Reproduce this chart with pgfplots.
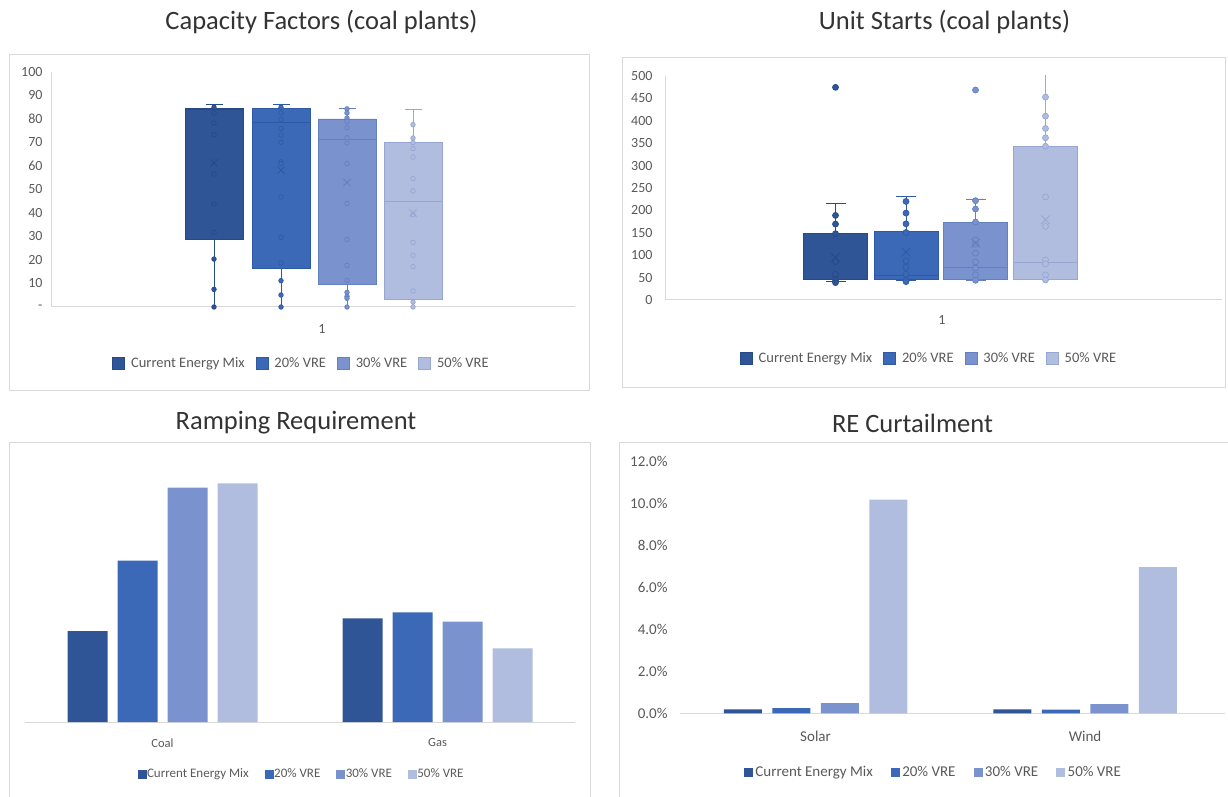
\documentclass[border=0pt]{standalone}
\usepackage{pgfplots}
\pgfplotsset{compat=1.18}
\usepackage{fontspec}
\setmainfont{Carlito}
\definecolor{c1}{HTML}{2F5597}
\definecolor{c2}{HTML}{3C69B7}
\definecolor{c3}{HTML}{7A93CF}
\definecolor{c4}{HTML}{B1BDDF}
\definecolor{e1}{HTML}{264A87}
\definecolor{e2}{HTML}{2F5AA3}
\definecolor{e3}{HTML}{6580BF}
\definecolor{e4}{HTML}{97A6D2}
\definecolor{gridgray}{HTML}{D9D9D9}
\definecolor{tickgray}{HTML}{595959}
\definecolor{titlegray}{HTML}{333333}
\pgfplotsset{
  panel/.style={scale only axis, anchor=south west,
    axis line style={draw=gridgray, line width=1pt, -},
    major tick length=0pt,
    tick label style={font=\fontsize{14}{16}\selectfont, text=tickgray},
    /pgf/number format/assume math mode=true,
    legend columns=4, unbounded coords=jump,
    legend style={draw=none, fill=none, anchor=center,
      font=\fontsize{14.5}{17}\selectfont, text=tickgray,
      nodes={inner sep=3pt},
      /tikz/every odd column/.append style={column sep=3pt},
      /tikz/every even column/.append style={column sep=8pt}},
  },
  bigbox/.style 2 args={legend image code/.code={\draw[line width=0.8pt, fill=#1, draw=#2] (0pt,-6pt) rectangle (12pt,6pt);}},
  smallbox/.style={legend image code/.code={\fill[#1] (0pt,-4pt) rectangle (8pt,4pt);}},
  bx/.style={forget plot, draw=#1, line width=0.9pt},
  pts/.style 2 args={forget plot, only marks, mark=*, mark options={fill=#1, draw=#2, line width=0.7pt, solid}},
  mn/.style={forget plot, only marks, mark=x, mark options={draw=#1, line width=0.9pt}},
}
\begin{document}
\begin{tikzpicture}
\path[use as bounding box] (0pt,0pt) rectangle (1228pt,796pt);
% panel frames
\draw[gridgray, line width=1pt] (9pt,741pt) rectangle (589pt,405pt);
\draw[gridgray, line width=1pt] (622pt,738pt) rectangle (1225pt,408pt);
\draw[gridgray, line width=1pt] (9pt,354pt) rectangle (590pt,-5pt);
\draw[gridgray, line width=1pt] (619pt,354pt) rectangle (1240pt,-5pt);
% titles
\node[font=\fontsize{26.5}{30}\selectfont, text=titlegray] at (321.5pt,774pt) {Capacity Factors (coal plants)};
\node[font=\fontsize{26.5}{30}\selectfont, text=titlegray] at (944.5pt,774pt) {Unit Starts (coal plants)};
\node[font=\fontsize{26.5}{30}\selectfont, text=titlegray] at (296pt,373pt) {Ramping Requirement};
\node[font=\fontsize{26.5}{30}\selectfont, text=titlegray] at (912.5pt,373pt) {RE Curtailment};

% ---------------- Capacity factors (box plots: whiskers, box, median, points, mean)
\begin{axis}[panel, at={(52pt,489pt)}, width=523pt, height=235pt,
  xmin=52, xmax=575, ymin=0, ymax=100,
  ytick={0,10,...,100}, yticklabels={-,10,20,30,40,50,60,70,80,90,100},
  xtick={322}, xticklabels={1},
  axis x line*=bottom, axis y line*=left,
  yticklabel style={xshift=-6pt}, xticklabel style={yshift=-14pt},
  legend style={at={(0.478,-0.238)}}]
\addlegendimage{bigbox={c1}{e1}}\addlegendentry{Current Energy Mix}
\addlegendimage{bigbox={c2}{e2}}\addlegendentry{20\% VRE}
\addlegendimage{bigbox={c3}{e3}}\addlegendentry{30\% VRE}
\addlegendimage{bigbox={c4}{e4}}\addlegendentry{50\% VRE}
% Current energy mix: lw=0, lq=28.7, med=84, uq=84.4, uw=86.1, mean=61.3
\addplot[bx=e1] coordinates {(214,28.7) (214,0) (nan,nan) (205.5,0) (222.5,0) (nan,nan) (214,84.4) (214,86.1) (nan,nan) (205.5,86.1) (222.5,86.1)};
\addplot[bx=e1, fill=c1] coordinates {(185,28.7) (243,28.7) (243,84.4) (185,84.4) (185,28.7)};
\addplot[bx=e1] coordinates {(185,84) (243,84)};
\addplot[pts={c1}{e1}, mark size=2.3pt] coordinates {(214,85) (214,82.6) (214,78.3) (214,73.3) (214,56.6) (214,43.8) (214,31.8) (214,20.4) (214,7.5) (214,0)};
\addplot[mn=e1, mark size=5pt] coordinates {(214,61.3)};
% 20% VRE: lw=0, lq=16.6, med=78.6, uq=84.4, uw=86.1, mean=58.2
\addplot[bx=e2] coordinates {(281,16.6) (281,0) (nan,nan) (272.5,0) (289.5,0) (nan,nan) (281,84.4) (281,86.1) (nan,nan) (272.5,86.1) (289.5,86.1)};
\addplot[bx=e2, fill=c2] coordinates {(252,16.6) (310,16.6) (310,84.4) (252,84.4) (252,16.6)};
\addplot[bx=e2] coordinates {(252,78.6) (310,78.6)};
\addplot[pts={c2}{e2}, mark size=2.3pt] coordinates {(281,85) (281,82.6) (281,79.7) (281,76) (281,73.2) (281,70.1) (281,61.8) (281,61) (281,46.8) (281,29.6) (281,18.7) (281,11.2) (281,5.1) (281,0)};
\addplot[mn=e2, mark size=5pt] coordinates {(281,58.2)};
% 30% VRE: lw=0, lq=9.8, med=71.5, uq=80, uw=84.7, mean=53
\addplot[bx=e3] coordinates {(347,9.8) (347,0) (nan,nan) (338.5,0) (355.5,0) (nan,nan) (347,80) (347,84.7) (nan,nan) (338.5,84.7) (355.5,84.7)};
\addplot[bx=e3, fill=c3] coordinates {(318,9.8) (376,9.8) (376,80) (318,80) (318,9.8)};
\addplot[bx=e3] coordinates {(318,71.5) (376,71.5)};
\addplot[pts={c3}{e3}, mark size=2.3pt] coordinates {(347,84.3) (347,82.6) (347,80.4) (347,79) (347,76.3) (347,72) (347,69.8) (347,61) (347,44.1) (347,28.7) (347,17.7) (347,11.3) (347,6.2) (347,4.5) (347,3.7) (347,0)};
\addplot[mn=e3, mark size=5pt] coordinates {(347,53)};
% 50% VRE: lw=0, lq=3.4, med=45.1, uq=70, uw=84, mean=40
\addplot[bx=e4] coordinates {(413,3.4) (413,0) (nan,nan) (404.5,0) (421.5,0) (nan,nan) (413,70) (413,84) (nan,nan) (404.5,84) (421.5,84)};
\addplot[bx=e4, fill=c4] coordinates {(384,3.4) (442,3.4) (442,70) (384,70) (384,3.4)};
\addplot[bx=e4] coordinates {(384,45.1) (442,45.1)};
\addplot[pts={c4}{e4}, mark size=2.3pt] coordinates {(413,77.6) (413,71.9) (413,70) (413,67.4) (413,63.8) (413,54.6) (413,49.4) (413,39.3) (413,27.5) (413,22) (413,17.2) (413,6.8) (413,2.1) (413,0)};
\addplot[mn=e4, mark size=5pt] coordinates {(413,40)};
\end{axis}

% ---------------- Unit starts
\begin{axis}[panel, at={(665pt,496pt)}, width=557pt, height=224pt,
  xmin=665, xmax=1222, ymin=0, ymax=500,
  ytick={0,50,...,500},
  xtick={942}, xticklabels={1},
  axis x line*=bottom, axis y line*=left,
  yticklabel style={xshift=-9pt}, xticklabel style={yshift=-12pt},
  legend style={at={(0.475,-0.259)}}]
\addlegendimage{bigbox={c1}{e1}}\addlegendentry{Current Energy Mix}
\addlegendimage{bigbox={c2}{e2}}\addlegendentry{20\% VRE}
\addlegendimage{bigbox={c3}{e3}}\addlegendentry{30\% VRE}
\addlegendimage{bigbox={c4}{e4}}\addlegendentry{50\% VRE}
% Current: lw=42, lq=44.8, med=46, uq=147.8, uw=216.5, mean=94.8
\addplot[bx=e1] coordinates {(835.5,44.8) (835.5,42) (nan,nan) (825.5,42) (845.5,42) (nan,nan) (835.5,147.8) (835.5,216.5) (nan,nan) (825.5,216.5) (845.5,216.5)};
\addplot[bx=e1, fill=c1] coordinates {(803.5,44.8) (867.5,44.8) (867.5,147.8) (803.5,147.8) (803.5,44.8)};
\addplot[bx=e1] coordinates {(803.5,46) (867.5,46)};
\addplot[pts={c1}{e1}, mark size=3pt] coordinates {(835.5,474.7) (835.5,188.8) (835.5,169.5) (835.5,148) (835.5,85.6) (835.5,57.5) (835.5,44.8) (835.5,38.8)};
\addplot[mn=e1, mark size=6pt] coordinates {(835.5,94.8)};
% 20%: lw=43, lq=44.8, med=53.7, uq=152.3, uw=231.4, mean=106.7
\addplot[bx=e2] coordinates {(906,44.8) (906,43) (nan,nan) (896,43) (916,43) (nan,nan) (906,152.3) (906,231.4) (nan,nan) (896,231.4) (916,231.4)};
\addplot[bx=e2, fill=c2] coordinates {(874,44.8) (938,44.8) (938,152.3) (874,152.3) (874,44.8)};
\addplot[bx=e2] coordinates {(874,53.7) (938,53.7)};
\addplot[pts={c2}{e2}, mark size=3pt] coordinates {(906,220) (906,194) (906,170) (906,150.7) (906,87.3) (906,73.1) (906,57.5) (906,44.8) (906,41)};
\addplot[mn=e2, mark size=6pt] coordinates {(906,106.7)};
% 30%: lw=44, lq=44.8, med=73.1, uq=174, uw=224, mean=126.9
\addplot[bx=e3] coordinates {(975.5,44.8) (975.5,44) (nan,nan) (965.5,44) (985.5,44) (nan,nan) (975.5,174) (975.5,224) (nan,nan) (965.5,224) (985.5,224)};
\addplot[bx=e3, fill=c3] coordinates {(943.5,44.8) (1007.5,44.8) (1007.5,174) (943.5,174) (943.5,44.8)};
\addplot[bx=e3] coordinates {(943.5,73.1) (1007.5,73.1)};
\addplot[pts={c3}{e3}, mark size=3pt] coordinates {(975.5,468.7) (975.5,221.7) (975.5,203) (975.5,174) (975.5,134) (975.5,124.6) (975.5,104.5) (975.5,85) (975.5,71) (975.5,56) (975.5,44)};
\addplot[mn=e3, mark size=6pt] coordinates {(975.5,126.9)};
% 50%: lw=44.8, lq=44.8, med=83.6, uq=343.3, uw=515, mean=179
\addplot[bx=e4] coordinates {(1045.5,343.3) (1045.5,515) (nan,nan) (1035.5,44.8) (1055.5,44.8)};
\addplot[bx=e4, fill=c4] coordinates {(1013.5,44.8) (1077.5,44.8) (1077.5,343.3) (1013.5,343.3) (1013.5,44.8)};
\addplot[bx=e4] coordinates {(1013.5,83.6) (1077.5,83.6)};
\addplot[pts={c4}{e4}, mark size=3pt] coordinates {(1045.5,453) (1045.5,410.4) (1045.5,382.9) (1045.5,362) (1045.5,343) (1045.5,230) (1045.5,164.2) (1045.5,89.6) (1045.5,80.6) (1045.5,56) (1045.5,44.8)};
\addplot[mn=e4, mark size=6pt] coordinates {(1045.5,179)};
\end{axis}

% ---------------- Ramping requirement
\begin{axis}[panel, at={(25pt,74pt)}, width=550pt, height=250pt,
  xmin=-0.5, xmax=1.5, ymin=0, ymax=250,
  ybar, bar width=40pt,
  ytick=\empty, xtick={0,1}, xticklabels={Coal,Gas},
  axis x line*=bottom, axis y line=none,
  tick label style={font=\fontsize{12.5}{14}\selectfont},
  xticklabel style={yshift=-13pt},
  legend style={at={(0.502,-0.208)}, font=\fontsize{13}{15}\selectfont, nodes={inner sep=1pt},
    /tikz/every odd column/.append style={column sep=0pt},
    /tikz/every even column/.append style={column sep=15pt}}]
\addlegendimage{smallbox=c1}\addlegendentry{Current Energy Mix}
\addlegendimage{smallbox=c2}\addlegendentry{20\% VRE}
\addlegendimage{smallbox=c3}\addlegendentry{30\% VRE}
\addlegendimage{smallbox=c4}\addlegendentry{50\% VRE}
\addplot[forget plot, fill=c1, draw=none, bar shift=-75pt] coordinates {(0,91) (1,103.7)};
\addplot[forget plot, fill=c2, draw=none, bar shift=-25pt] coordinates {(0,161.3) (1,109.7)};
\addplot[forget plot, fill=c3, draw=none, bar shift=25pt] coordinates {(0,234.3) (1,100.3)};
\addplot[forget plot, fill=c4, draw=none, bar shift=75pt] coordinates {(0,238.7) (1,73.7)};
\end{axis}

% ---------------- RE curtailment
\begin{axis}[panel, at={(680pt,82.7pt)}, width=545.2pt, height=252.3pt,
  xmin=-0.503, xmax=1.52, ymin=0, ymax=12,
  ybar, bar width=38pt,
  ytick={0,2,...,12},
  yticklabel={\pgfmathprintnumber[fixed,fixed zerofill,precision=1]{\tick}\%},
  xtick={0,1}, xticklabels={Solar,Wind},
  axis x line*=bottom, axis y line*=left, y axis line style={draw=none},
  tick label style={font=\fontsize{15}{17}\selectfont},
  yticklabel style={xshift=-9pt}, xticklabel style={yshift=-14pt},
  legend style={at={(0.464,-0.233)}, font=\fontsize{15}{17}\selectfont, nodes={inner sep=1pt},
    /tikz/every odd column/.append style={column sep=2pt},
    /tikz/every even column/.append style={column sep=17pt}}]
\addlegendimage{smallbox=c1}\addlegendentry{Current Energy Mix}
\addlegendimage{smallbox=c2}\addlegendentry{20\% VRE}
\addlegendimage{smallbox=c3}\addlegendentry{30\% VRE}
\addlegendimage{smallbox=c4}\addlegendentry{50\% VRE}
\addplot[forget plot, fill=c1, draw=none, bar shift=-72.75pt] coordinates {(0,0.19) (1,0.19)};
\addplot[forget plot, fill=c2, draw=none, bar shift=-24.25pt] coordinates {(0,0.25) (1,0.18)};
\addplot[forget plot, fill=c3, draw=none, bar shift=24.25pt] coordinates {(0,0.48) (1,0.44)};
\addplot[forget plot, fill=c4, draw=none, bar shift=72.75pt] coordinates {(0,10.16) (1,6.95)};
\end{axis}
\end{tikzpicture}
\end{document}
